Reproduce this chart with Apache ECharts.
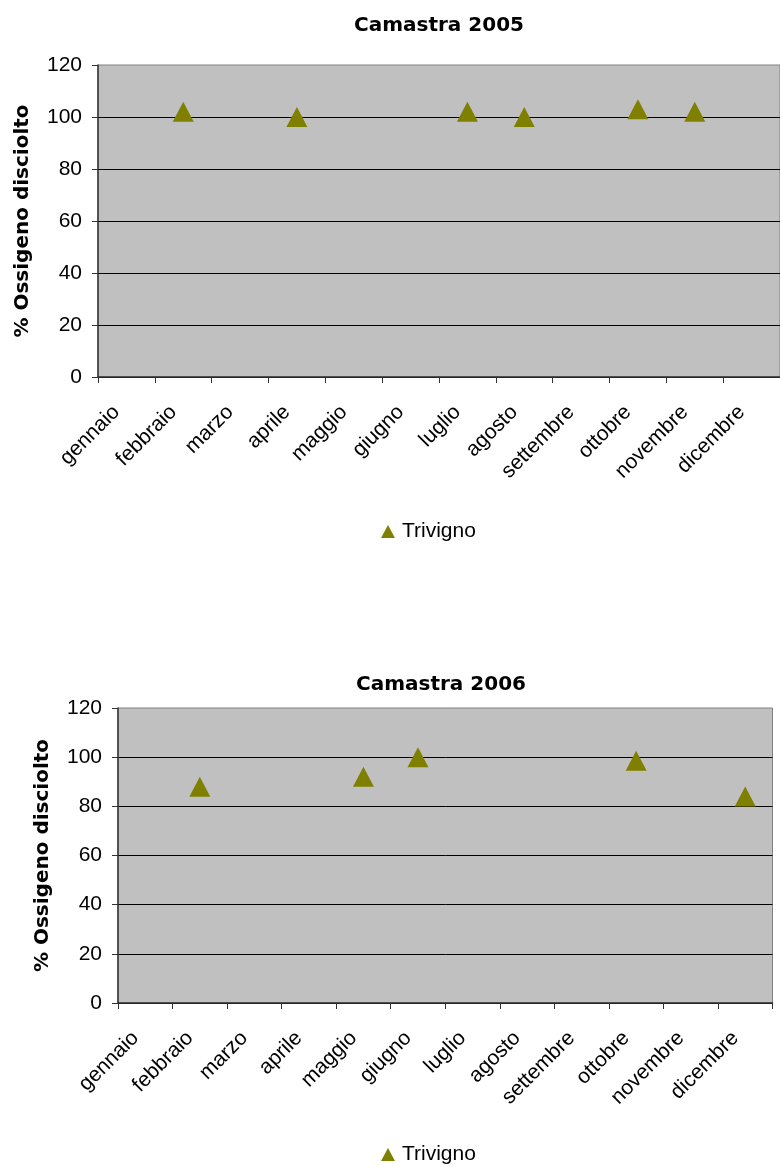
<!DOCTYPE html>
<html>
<head>
<meta charset="utf-8">
<script src="https://cdn.jsdelivr.net/npm/echarts@6/dist/echarts.min.js"></script>
<style>
  html, body { margin: 0; padding: 0; background: #ffffff; }
  #chart { width: 780px; height: 1167px; }
</style>
</head>
<body>
<div id="chart"></div>
<script>
// Months of the year (category axis)
const months = ['gennaio', 'febbraio', 'marzo', 'aprile', 'maggio', 'giugno',
                'luglio', 'agosto', 'settembre', 'ottobre', 'novembre', 'dicembre'];

// Dissolved oxygen saturation (%) at Trivigno, per month
const trivigno2005 = [null, 102, null, 100, null, null, 102, 100, null, 103, 102, null];
const trivigno2006 = [null, 88, null, null, 92, 100, null, null, null, 98.5, null, 84];

const chartTitles = ['Camastra 2005', 'Camastra 2006'];
const seriesName = 'Trivigno';
const yAxisTitle = '% Ossigeno disciolto';
const yTicks = { min: 0, max: 120, interval: 20 };

const OLIVE = '#808000';
const AXIS_DARK = '#333333';
const labelFont = 'Liberation Sans, Arial, sans-serif';
const boldFont = 'DejaVu Sans, Verdana, sans-serif';

const panels = [
  { grid: { left: 98, top: 65, right: -6, height: 312 }, titleX: 434, titleY: 11, legendY: 516 },
  { grid: { left: 118, top: 708, right: 7.5, height: 295 }, titleX: 436, titleY: 670, legendY: 1139 }
];
const seriesData = [trivigno2005, trivigno2006];

const option = {
  animation: false,
  backgroundColor: '#ffffff',
  title: panels.map((p, i) => ({
    text: chartTitles[i],
    left: p.titleX,
    top: p.titleY,
    textAlign: 'center',
    textStyle: { fontFamily: boldFont, fontWeight: 'bold', fontSize: 20, color: '#000' }
  })),
  legend: panels.map(p => ({
    data: [seriesName],
    left: 376,
    top: p.legendY,
    itemWidth: 14,
    itemHeight: 13,
    icon: 'triangle',
    textStyle: { fontFamily: labelFont, fontSize: 21, color: '#000', padding: [0, 0, 0, 2] }
  })),
  grid: panels.map(p => Object.assign({
    show: true,
    backgroundColor: '#c0c0c0',
    borderColor: '#808080',
    borderWidth: 1
  }, p.grid)),
  xAxis: panels.map((p, i) => ({
    type: 'category',
    gridIndex: i,
    data: months,
    boundaryGap: true,
    axisLine: { lineStyle: { color: AXIS_DARK, width: 1.5 } },
    axisTick: { show: true, length: 6, lineStyle: { color: AXIS_DARK } },
    axisLabel: {
      interval: 0,
      rotate: 45,
      margin: 22,
      padding: [0, 14, 0, 0],
      fontFamily: labelFont,
      fontSize: 21,
      color: '#000'
    },
    splitLine: { show: false }
  })),
  yAxis: panels.map((p, i) => ({
    type: 'value',
    gridIndex: i,
    min: yTicks.min,
    max: yTicks.max,
    interval: yTicks.interval,
    name: yAxisTitle,
    nameLocation: 'middle',
    nameGap: 65,
    nameRotate: 90,
    nameTextStyle: { fontFamily: boldFont, fontWeight: 'bold', fontSize: 20, color: '#000' },
    axisLine: { show: true, lineStyle: { color: AXIS_DARK, width: 1.5 } },
    axisTick: { show: true, length: 6, lineStyle: { color: AXIS_DARK } },
    axisLabel: { margin: 16, fontFamily: labelFont, fontSize: 21, color: '#000' },
    splitLine: { show: true, showMaxLine: false, lineStyle: { color: '#000000', width: 1 } }
  })),
  series: seriesData.map((d, i) => ({
    name: seriesName,
    type: 'scatter',
    xAxisIndex: i,
    yAxisIndex: i,
    data: d,
    symbol: 'triangle',
    symbolSize: [21, 20],
    itemStyle: { color: OLIVE, opacity: 1 }
  }))
};

const chart = echarts.init(document.getElementById('chart'), null, { renderer: 'canvas' });
chart.setOption(option);
</script>
</body>
</html>
